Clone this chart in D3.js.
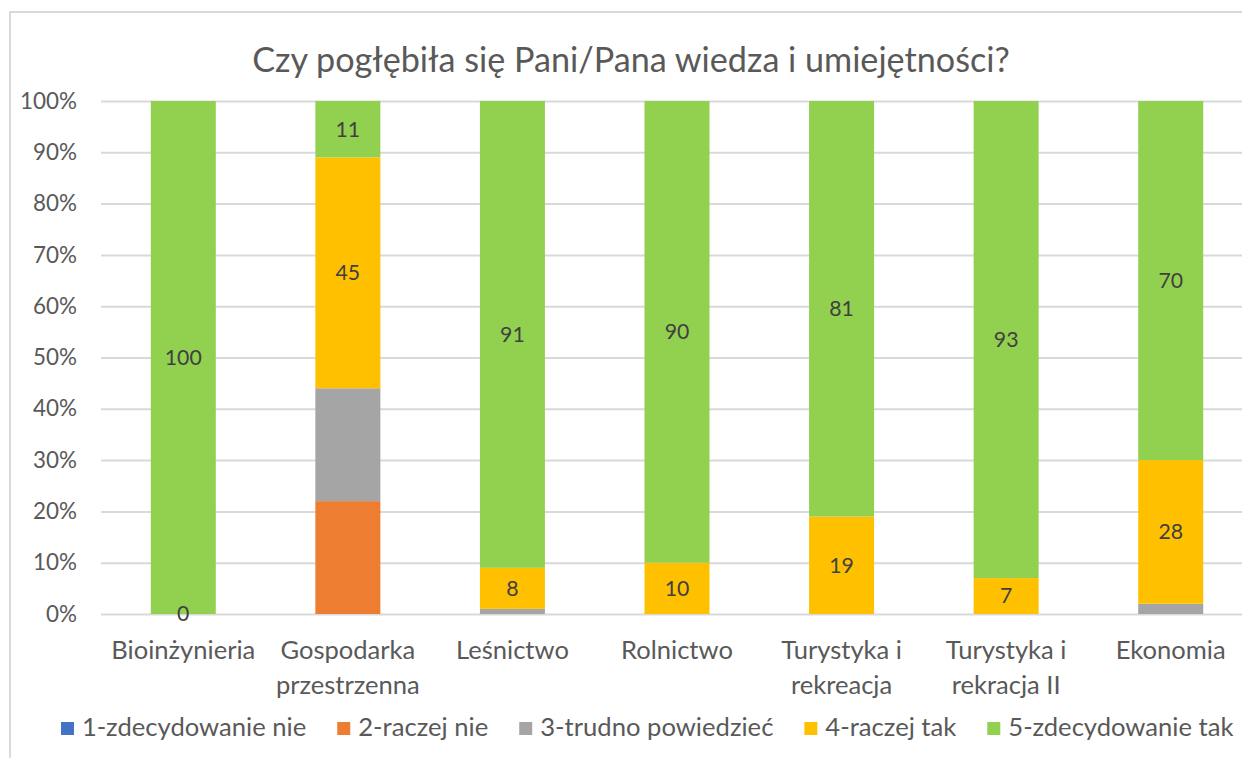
<!DOCTYPE html>
<html>
<head>
<meta charset="utf-8">
<script src="https://cdn.jsdelivr.net/npm/d3@7"></script>
<style>
  body { margin: 0; background: #fff; }
  svg { display: block; font-family: Lato, "Open Sans", sans-serif; }
</style>
</head>
<body>
<div id="chart"></div>
<script>
// data
const title = "Czy pogłębiła się Pani/Pana wiedza i umiejętności?";
const categories = ["Bioinżynieria", "Gospodarka przestrzenna", "Leśnictwo", "Rolnictwo",
                    "Turystyka i rekreacja", "Turystyka i rekracja II", "Ekonomia"];
const seriesNames = ["1-zdecydowanie nie", "2-raczej nie", "3-trudno powiedzieć",
                     "4-raczej tak", "5-zdecydowanie tak"];
const zdecydowanieNie = [0, 0, 0, 0, 0, 0, 0];
const raczejNie       = [0, 22, 0, 0, 0, 0, 0];
const trudnoPowiedziec = [0, 22, 1, 0, 0, 0, 2];
const raczejTak       = [0, 45, 8, 10, 19, 7, 28];
const zdecydowanieTak = [100, 11, 91, 90, 81, 93, 70];
const yTicks = [0, 10, 20, 30, 40, 50, 60, 70, 80, 90, 100];
const labelledSeries = ["4-raczej tak", "5-zdecydowanie tak"];

const colors = ["#4472C4", "#ED7D31", "#A5A5A5", "#FFC000", "#92D050"];
const allSeries = [zdecydowanieNie, raczejNie, trudnoPowiedziec, raczejTak, zdecydowanieTak];

const w = 1242, h = 758;
const plotLeft = 101, plotRight = 1253, plotTop = 101, plotBottom = 614;
const textCol = "#595959";

const svg = d3.select("#chart").append("svg")
  .attr("width", w).attr("height", h);

// helper: font size so that a sample string gets a given width
const probe = svg.append("text").attr("font-size", 100).attr("x", -1000).attr("y", -1000);
function fitSize(sample, width) {
  probe.text(sample);
  return 100 * width / probe.node().getComputedTextLength();
}
const labelSize = fitSize("Bioinżynieria", 144);
const tickSize = fitSize("100%", 57);
const dataSize = fitSize("100", 37);
const legendSize = fitSize("2-raczej nie", 130);
const titleSize = fitSize(title, 758);
probe.remove();

// chart frame
svg.append("rect")
  .attr("x", 10).attr("y", 12)
  .attr("width", 1300).attr("height", 800)
  .attr("fill", "none").attr("stroke", "#D9D9D9").attr("stroke-width", 2);

// title
svg.append("text")
  .attr("x", 631).attr("y", 72)
  .attr("text-anchor", "middle")
  .attr("font-size", titleSize)
  .attr("fill", textCol)
  .text(title);

// scales
const x = d3.scaleBand()
  .domain(categories)
  .range([plotLeft, plotRight])
  .paddingInner(0.605)
  .paddingOuter(0.3025);

const y = d3.scaleLinear()
  .domain([0, 100])
  .range([plotBottom, plotTop]);

// gridlines
const grid = svg.append("g")
  .attr("transform", "translate(" + plotLeft + ",0)")
  .call(d3.axisLeft(y).tickValues(yTicks).tickSize(-(plotRight - plotLeft)).tickFormat(""));
grid.select(".domain").remove();
grid.selectAll("line").attr("stroke", "#D9D9D9").attr("stroke-width", 2);

// y axis labels
const yAxis = svg.append("g")
  .attr("transform", "translate(" + plotLeft + ",0)")
  .call(d3.axisLeft(y).tickValues(yTicks).tickSize(0).tickPadding(24).tickFormat((d) => d + "%"));
yAxis.select(".domain").remove();
yAxis.selectAll("text")
  .attr("font-size", tickSize)
  .attr("font-family", "Lato")
  .attr("fill", textCol);

// stacked bars
const table = categories.map(function(c, i) {
  const row = { cat: c };
  seriesNames.forEach((s, k) => { row[s] = allSeries[k][i]; });
  return row;
});
const stacked = d3.stack().keys(seriesNames)(table);

svg.selectAll("g.layer")
  .data(stacked)
  .enter()
  .append("g")
  .attr("class", "layer")
  .attr("fill", (d, k) => colors[k])
  .selectAll("rect")
  .data((d) => d)
  .enter()
  .append("rect")
  .attr("x", (d) => x(d.data.cat))
  .attr("y", (d) => y(d[1]))
  .attr("width", x.bandwidth())
  .attr("height", (d) => y(d[0]) - y(d[1]));

// data labels on top of all bars (only the two "tak" series carry them)
svg.selectAll("g.labels")
  .data(stacked.filter((d) => labelledSeries.includes(d.key)))
  .enter()
  .append("g")
  .attr("class", "labels")
  .selectAll("text")
  .data((d) => d)
  .enter()
  .append("text")
  .attr("x", (d) => x(d.data.cat) + x.bandwidth() / 2)
  .attr("y", (d) => y((d[0] + d[1]) / 2))
  .attr("dy", "0.35em")
  .attr("text-anchor", "middle")
  .attr("font-size", dataSize)
  .attr("fill", "#404040")
  .text((d) => d[1] - d[0]);

// x axis labels, wrapped to the band step
const xAxis = svg.append("g")
  .attr("transform", "translate(0," + plotBottom + ")")
  .call(d3.axisBottom(x).tickSize(0).tickPadding(0));
xAxis.select(".domain").remove();
xAxis.selectAll("text")
  .attr("font-size", labelSize)
  .attr("font-family", "Lato")
  .attr("fill", textCol)
  .attr("y", 45)
  .attr("dy", 0)
  .each(function(d) {
    const t = d3.select(this);
    const words = d.split(" ");
    t.text(null);
    let line = [];
    let lineNo = 0;
    let tspan = t.append("tspan").attr("x", 0).attr("y", 45);
    words.forEach(function(word) {
      line.push(word);
      tspan.text(line.join(" "));
      if (tspan.node().getComputedTextLength() > x.step() - 8 && line.length > 1) {
        line.pop();
        tspan.text(line.join(" "));
        line = [word];
        lineNo++;
        tspan = t.append("tspan").attr("x", 0).attr("y", 45 + lineNo * 35).text(word);
      }
    });
  });

// legend
const legend = svg.append("g").attr("transform", "translate(61,0)");
let lx = 0;
seriesNames.forEach(function(name, k) {
  legend.append("rect")
    .attr("x", lx).attr("y", 722)
    .attr("width", 13).attr("height", 13)
    .attr("fill", colors[k]);
  const t = legend.append("text")
    .attr("x", lx + 21).attr("y", 736)
    .attr("font-size", legendSize)
    .attr("fill", textCol)
    .text(name);
  lx += 21 + t.node().getComputedTextLength() + 31;
});
</script>
</body>
</html>
